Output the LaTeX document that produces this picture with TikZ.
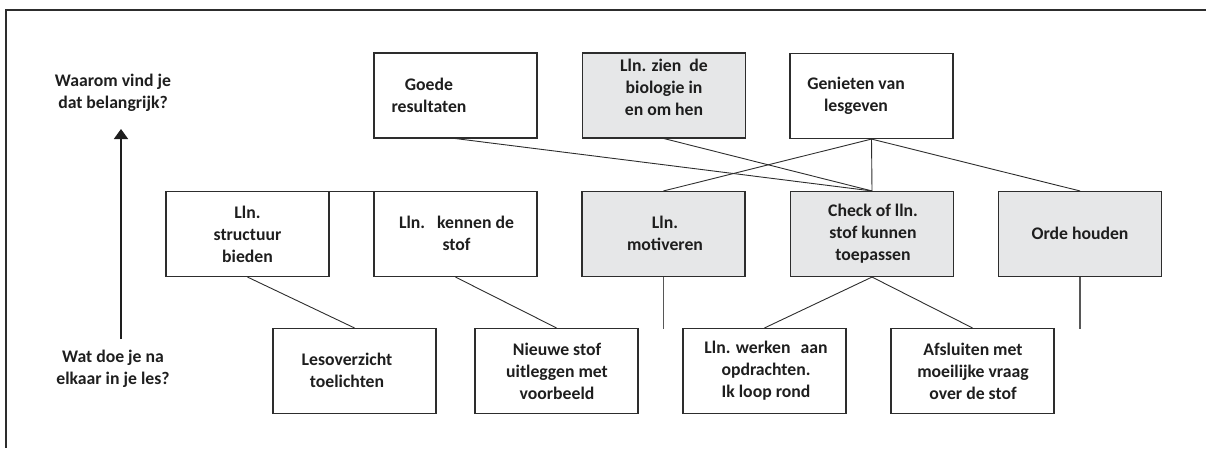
\documentclass[tikz,border=0pt]{standalone}
\usepackage{fontspec}
\setmainfont{Carlito}
\usetikzlibrary{arrows.meta}
\definecolor{boxgray}{RGB}{230,231,232}
\definecolor{edgecol}{RGB}{45,45,45}
\definecolor{txtcol}{RGB}{30,30,30}
\begin{document}
\begin{tikzpicture}[x=1pt,y=-1pt,
  box/.style={draw=edgecol, line width=1.1pt, minimum width=163pt, minimum height=85pt, inner sep=0pt},
  graybox/.style={box, fill=boxgray},
  txt/.style={font=\fontsize{17.7}{22}\selectfont\bfseries, text=txtcol, align=center, inner sep=0pt},
  conn/.style={draw=edgecol, line width=0.9pt},
  stub/.style={draw=edgecol!80, line width=1.4pt},
  frame/.style={draw=edgecol, line width=1.8pt}]
\useasboundingbox (0,0) rectangle (1206,448);
% frame
\coordinate (fTR) at (1206,10);
\coordinate (fTL) at (6,10);
\coordinate (fBL) at (6,448);
\draw[frame] (fTR) -- (fTL) -- (fBL);

% question labels and arrow
\node[txt] (q1) at (113,93) {Waarom vind je\\dat belangrijk?};
\node[txt] (q2) at (113,369) {Wat doe je na\\elkaar in je les?};
\coordinate (arrS) at (121,339);
\coordinate (arrE) at (121,129);
\draw[draw=txtcol, line width=1.7pt, -{Triangle[width=14pt,length=10pt]}] (arrS) -- (arrE);

% top row
\node[box] (goede) at (455.5,95.5) {};
\node[txt] (goedet) at (429,95.5) {Goede\\resultaten};
\node[graybox] (zien) at (664,95.5) {};
\node[txt] (zient) at (664,87.5) {Lln. zien\ \ de\\biologie in\\en om hen};
\node[box] (genieten) at (871.5,96) {};
\node[txt] (genietent) at (856,96) {Genieten van\\lesgeven};

% middle row
\node[box] (structuur) at (247.5,234) {};
\node[txt] (structuurt) at (247.5,234) {Lln.\\structuur\\bieden};
\node[box] (kennen) at (455.5,234) {};
\node[txt] (kennent) at (456.5,233) {Lln.\hspace{12pt}kennen de\\stof};
\node[graybox] (motiveren) at (663.5,234) {};
\node[txt] (motiverent) at (665,233) {Lln.\\motiveren};
\node[graybox] (check) at (872,234) {};
\node[txt] (checkt) at (873,234) {Check of lln.\\stof kunnen\\toepassen};
\node[graybox] (orde) at (1080,234) {};
\node[txt] (ordet) at (1080,233) {Orde houden};

% bottom row
\node[box] (lesov) at (354.5,371) {};
\node[txt] (lesovt) at (347,370.5) {Lesoverzicht\\toelichten};
\node[box] (nieuwe) at (556.5,371) {};
\node[txt] (nieuwet) at (557,371) {Nieuwe stof\\uitleggen met\\voorbeeld};
\node[box] (werken) at (764.5,371) {};
\node[txt] (werkent) at (766,371) {Lln. werken\hspace{10pt}aan\\opdrachten.\\Ik loop rond};
\node[box] (afsluiten) at (972.5,371) {};
\node[txt] (afsluitent) at (973,371) {Afsluiten met\\moeilijke vraag\\over de stof};

% connectors
\draw[conn] (goede.south) -- (check.north);
\draw[conn] (zien.south) -- (check.north);
\draw[conn] (genieten.south) -- (motiveren.north);
\draw[conn] (genieten.south) -- (check.north);
\draw[conn] (genieten.south) -- (orde.north);
\draw[conn] (structuur.north east) -- (kennen.north west);
\draw[conn] (structuur.south) -- (lesov.north);
\draw[conn] (kennen.south) -- (nieuwe.north);
\draw[conn] (check.south) -- (werken.north);
\draw[conn] (check.south) -- (afsluiten.north);
\coordinate (motEnd) at (663.5,329);
\coordinate (ordeEnd) at (1080,329);
\draw[stub] (motiveren.south) -- (motEnd);
\draw[stub] (orde.south) -- (ordeEnd);
\end{tikzpicture}
\end{document}
